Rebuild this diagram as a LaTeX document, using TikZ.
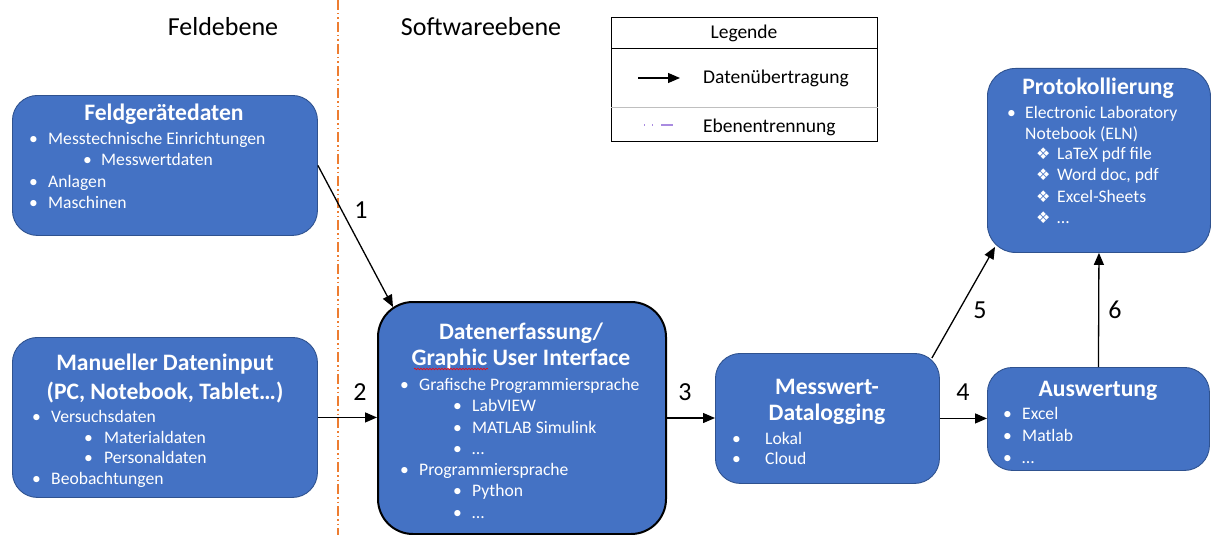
\documentclass[tikz,border=0pt]{standalone}
\usepackage{fontspec}
\setmainfont{Carlito}
\newfontfamily\djv{DejaVu Sans}
\usetikzlibrary{arrows.meta,decorations.pathmorphing,calc}
\definecolor{boxblue}{HTML}{4472C4}
\definecolor{boxline}{HTML}{2F528F}
\definecolor{sepor}{HTML}{ED7D31}
\definecolor{legpurple}{HTML}{A98BE0}
\definecolor{leggray}{HTML}{BFBFBF}
\newcommand{\hdline}[4]{\node[head] (#1) at (#2,#3) {#4};}
\newcommand{\bitem}[5]{\node[txt] (#1) at (#2-3,#4+6) {\makebox[\dimexpr#3pt-#2pt+3pt\relax][l]{•}#5};}
\newcommand{\ditem}[5]{\node[txt] (#1) at (#2-4,#4+6) {\makebox[\dimexpr#3pt-#2pt+4pt\relax][l]{\djv\fontsize{16}{18}\selectfont ❖}#5};}
\begin{document}
\begin{tikzpicture}[x=1pt,y=-1pt,
  box/.style={draw=boxline, fill=boxblue, rounded corners=25pt, line width=0.9pt, anchor=north west, inner sep=0pt},
  txt/.style={anchor=base west, text=white, font=\fontsize{17.6}{20}\selectfont, inner sep=0pt},
  head/.style={anchor=base, text=white, font=\fontsize{23.6}{27}\selectfont\bfseries, inner sep=0pt},
  lbl/.style={anchor=base, text=black, font=\fontsize{26}{30}\selectfont, inner sep=0pt},
  legtxt/.style={anchor=base west, text=black, font=\fontsize{19.5}{23}\selectfont, inner sep=0pt},
  arr/.style={-{Triangle[length=12pt,width=10pt]}, line width=1.3pt, black},
  sepline/.style={sepor, line width=1.4pt, dash pattern=on 10pt off 3pt on 1.5pt off 3pt on 1.5pt off 3pt}
]
\useasboundingbox (0,0) rectangle (1212,535);

% separator
\coordinate (septop) at (338,0);
\coordinate (sepbot) at (338,535);
\draw[sepline] (septop) -- (sepbot);

% top labels
\node[lbl] (feldebene) at (223,36) {Feldebene};
\node[lbl] (softebene) at (481,36) {Softwareebene};

% boxes
\node[box, minimum width=305pt, minimum height=140pt] (feld) at (12,95) {};
\node[box, minimum width=305pt, minimum height=160pt] (man) at (12,337) {};
\node[box, draw=black, line width=2pt, rounded corners=35pt, minimum width=288pt, minimum height=232pt] (gui) at (377,301) {};
\node[box, minimum width=224pt, minimum height=130pt] (mess) at (715,353) {};
\node[box, minimum width=222pt, minimum height=103pt] (ausw) at (987,367) {};
\node[box, rounded corners=28pt, minimum width=223pt, minimum height=184pt] (prot) at (987,68) {};

% Feldgeraetedaten
\hdline{fh}{164}{120.5}{Feldgerätedaten}
\bitem{f1}{32}{48}{138}{Messtechnische Einrichtungen}
\bitem{f2}{86}{101}{159}{Messwertdaten}
\bitem{f3}{32}{48}{181}{Anlagen}
\bitem{f4}{32}{48}{202}{Maschinen}

% Manueller Dateninput
\hdline{mh1}{165}{370.5}{Manueller Dateninput}
\hdline{mh2}{165}{399.5}{(PC, Notebook, Tablet…)}
\bitem{m1}{35}{51}{416}{Versuchsdaten}
\bitem{m2}{87}{104}{437}{Materialdaten}
\bitem{m3}{87}{104}{457}{Personaldaten}
\bitem{m4}{35}{51}{478}{Beobachtungen}

% GUI
\hdline{gh1}{521}{339.5}{Datenerfassung/}
\hdline{gh2}{521}{365.5}{Graphic User Interface}
\draw[red, line width=0.6pt, decorate, decoration={snake, segment length=3pt, amplitude=0.8pt}] (414,369) -- (488,369);
\bitem{g1}{403}{419}{384}{Grafische Programmiersprache}
\bitem{g2}{456}{472}{405}{LabVIEW}
\bitem{g3}{456}{472}{427}{MATLAB Simulink}
\bitem{g4}{456}{472}{448}{…}
\bitem{g5}{403}{419}{469}{Programmiersprache}
\bitem{g6}{456}{472}{490}{Python}
\bitem{g7}{456}{472}{512}{…}

% Messwert-Datalogging
\hdline{wh1}{827}{394.5}{Messwert-}
\hdline{wh2}{827}{420.5}{Datalogging}
\bitem{w1}{735}{765}{438}{Lokal}
\bitem{w2}{735}{765}{458}{Cloud}

% Auswertung
\hdline{ah}{1098}{396.5}{Auswertung}
\bitem{a1}{1006}{1022}{413}{Excel}
\bitem{a2}{1006}{1022}{435}{Matlab}
\bitem{a3}{1006}{1022}{457}{…}

% Protokollierung
\hdline{ph}{1098}{94.5}{Protokollierung}
\bitem{p1}{1010}{1025}{112}{Electronic Laboratory}
\node[txt] (p2) at (1025,139) {Notebook (ELN)};
\ditem{p3}{1040}{1057}{153}{LaTeX pdf file}
\ditem{p4}{1040}{1057}{174}{Word doc, pdf}
\ditem{p5}{1040}{1057}{196}{Excel-Sheets}
\ditem{p6}{1040}{1057}{217}{…}

% connectors
\draw[arr] (feld.east) -- ($(gui.north west)+(16,6)$);
\draw[arr] (man.east) -- (man.east -| gui.west);
\draw[arr] (gui.east) -- (gui.east -| mess.west);
\draw[arr] (mess.east) -- (mess.east -| ausw.west);
\draw[arr] ($(mess.north east)+(-8,5)$) -- ($(prot.south west)+(8,-6)$);
\draw[arr] (ausw.north) -- (prot.south);

% numbers
\node[lbl] (n1) at (361,218) {1};
\node[lbl] (n2) at (360,400) {2};
\node[lbl] (n3) at (685,400) {3};
\node[lbl] (n4) at (963,400) {4};
\node[lbl] (n5) at (980,318) {5};
\node[lbl] (n6) at (1115,318) {6};

% legend
\node[draw=black, line width=1.2pt, minimum width=266pt, minimum height=124pt, anchor=north west, inner sep=0pt] (leg) at (611,17) {};
\draw[black, line width=1pt] ($(leg.north west)+(0,32)$) -- ($(leg.north east)+(0,32)$);
\draw[leggray, line width=1pt] ($(leg.north west)+(0,90)$) -- ($(leg.north east)+(0,90)$);
\node[anchor=base, text=black, font=\fontsize{19.5}{23}\selectfont, inner sep=0pt] (legh) at (744,39) {Legende};
\coordinate (la1) at (638,78);
\coordinate (la2) at (680,78);
\draw[arr] (la1) -- (la2);
\node[legtxt] (lt1) at (703,84) {Datenübertragung};
\coordinate (lp1) at (644,125);
\coordinate (lp2) at (673,125);
\draw[legpurple, line width=1.2pt, dash pattern=on 1pt off 7pt on 1pt off 8pt on 12pt off 2pt] (lp1) -- (lp2);
\node[legtxt] (lt2) at (703,132) {Ebenentrennung};
\end{tikzpicture}
\end{document}
